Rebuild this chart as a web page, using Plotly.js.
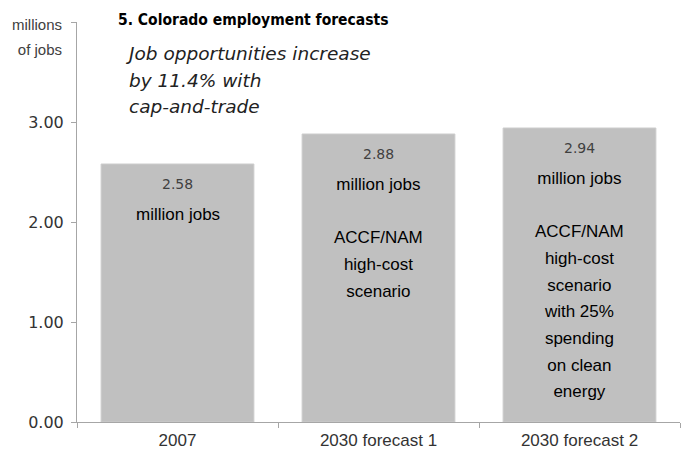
<!DOCTYPE html>
<html>
<head>
<meta charset="utf-8">
<script src="https://cdn.plot.ly/plotly-3.0.1.min.js"></script>
<style>html,body{margin:0;padding:0;background:#fff;}#chart{width:686px;height:457px;}</style>
</head>
<body>
<div id="chart"></div>
<script>
const categories = ["2007", "2030 forecast 1", "2030 forecast 2"];
const values = [2.58, 2.88, 2.94];
const descriptions = [
  ["million jobs"],
  ["million jobs", "", "ACCF/NAM", "high-cost", "scenario"],
  ["million jobs", "", "ACCF/NAM", "high-cost", "scenario", "with 25%", "spending", "on clean", "energy"]
];
const yTickVals = [0, 1, 2, 3, 4];
const yTickText = ["0.00", "1.00", "2.00", "3.00", ""];
const titleText = "5. Colorado employment forecasts";
const subtitleLines = ["Job opportunities increase", "by 11.4% with", "cap-and-trade"];
const unitLines = ["millions", "of jobs"];

const labelFont = "Liberation Sans, Arial, sans-serif";
const numFont = "DejaVu Sans, Verdana, sans-serif";

const annotations = [];
categories.forEach((c, i) => {
  annotations.push({
    x: i, y: values[i], xref: 'x', yref: 'y',
    text: values[i].toFixed(2),
    showarrow: false, yanchor: 'middle', yshift: -20,
    font: {family: numFont, size: 14, color: '#404040'}
  });
  annotations.push({
    x: i, y: values[i], xref: 'x', yref: 'y',
    text: descriptions[i].map(s => '<span style="font-size:17px">' + (s || ' ') + '</span>').join('<br>'),
    showarrow: false, yanchor: 'top', yshift: -39, align: 'center',
    font: {family: labelFont, size: 20.5, color: '#000'}
  });
});
annotations.push({
  xref: 'paper', yref: 'paper', x: (123 - 77) / 603, y: (422 - 41) / 400,
  xanchor: 'left', yanchor: 'top', align: 'left', showarrow: false,
  text: subtitleLines.map(s => '<span style="font-size:18.5px"><i>' + s + '</i></span>').join('<br>'),
  font: {family: numFont, size: 20.4, color: '#222'}
});
annotations.push({
  xref: 'paper', yref: 'paper', x: 0, y: 1, xanchor: 'right', yanchor: 'top',
  xshift: -13, yshift: 8, align: 'right', showarrow: false,
  text: unitLines.map(s => '<span style="font-size:15px">' + s + '</span>').join('<br>'),
  font: {family: labelFont, size: 19.2, color: '#404040'}
});

const trace = {
  type: 'bar', x: categories, y: values,
  marker: {color: '#c0c0c0', line: {color: '#cccccc', width: 1}},
  hoverinfo: 'none'
};

const layout = {
  width: 686, height: 457,
  margin: {l: 77, r: 6, t: 22, b: 35},
  paper_bgcolor: '#fff', plot_bgcolor: '#fff',
  showlegend: false,
  bargap: 0.24,
  title: {
    text: '<b>' + titleText + '</b>',
    xref: 'container', yref: 'container', x: 118/686, y: 1 - 20/457,
    xanchor: 'left', yanchor: 'middle',
    font: {family: "DejaVu Sans Condensed, Liberation Sans Narrow, Liberation Sans, sans-serif", size: 15.5, color: '#000'}
  },
  xaxis: {
    type: 'category', range: [-0.5, 2.5], autorange: false,
    showgrid: false, zeroline: false,
    showline: true, linecolor: '#a6a6a6', linewidth: 1,
    ticks: 'outside', tickson: 'boundaries', ticklen: 5, tickcolor: '#a6a6a6',
    tickangle: 0, ticklabelstandoff: 3,
    tickfont: {family: labelFont, size: 17, color: '#333'}
  },
  yaxis: {
    range: [0, 4], autorange: false, showgrid: false, zeroline: false,
    showline: true, linecolor: '#a6a6a6', linewidth: 1,
    ticks: 'outside', ticklen: 5, tickcolor: '#a6a6a6',
    ticklabelstandoff: 4,
    tickvals: yTickVals, ticktext: yTickText,
    tickfont: {family: numFont, size: 16, color: '#333'}
  },
  annotations: annotations
};

Plotly.newPlot('chart', [trace], layout, {displayModeBar: false, staticPlot: true});
</script>
</body>
</html>
